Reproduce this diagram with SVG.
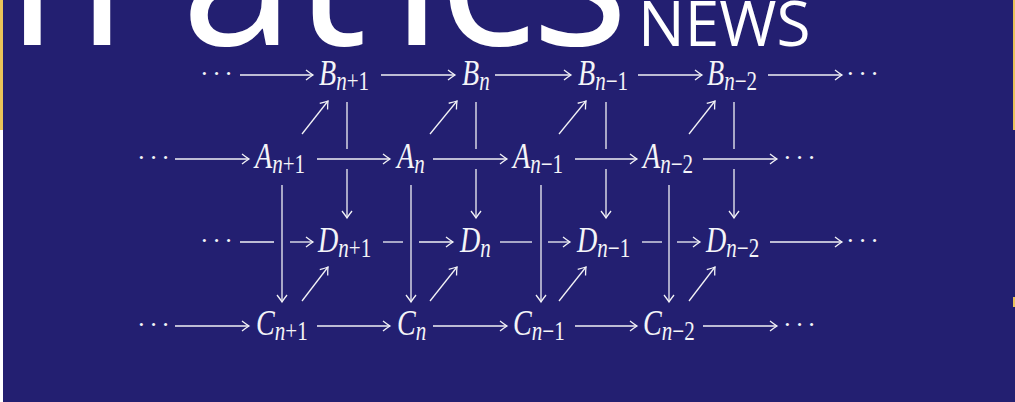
<svg xmlns="http://www.w3.org/2000/svg" width="1015" height="402" viewBox="0 0 1015 402">
<style>
.ln{stroke:#f2f2f6;stroke-width:1.3;fill:none}
.ar{stroke:#f2f2f6;stroke-width:1.3;fill:none;marker-end:url(#ah)}
.m{font-family:"Liberation Serif",serif;font-style:italic;font-size:36px;fill:#f4f4f8}
.s{font-size:27px}
.r{font-style:normal}
.dots{font-family:"Liberation Serif",serif;font-size:26px;letter-spacing:3.5px;fill:#f4f4f8}
.title{font-family:"Open Sans",sans-serif;fill:#ffffff}
</style>
<defs>
<marker id="ah" markerUnits="userSpaceOnUse" orient="auto" markerWidth="14" markerHeight="14" viewBox="-9 -7 11 14" refX="0" refY="0">
<path d="M-7,-5 Q-2.5,-1.5 0,0 Q-2.5,1.5 -7,5" fill="none" stroke="#f2f2f6" stroke-width="1.3"/>
</marker>
</defs>
<rect x="0" y="0" width="1015" height="402" fill="#231f71"/>
<rect x="0" y="0" width="3" height="130" fill="#e9c35a"/>
<rect x="0" y="130" width="3" height="272" fill="#ffffff"/>
<rect x="1013" y="0" width="2" height="130" fill="#e9c35a"/>
<rect x="1013" y="297" width="2" height="10" fill="#e9c35a"/>
<g id="title">
<text class="title" x="-63 181 294 391 438 531" y="45" font-size="205" font-weight="400">matics</text>
<text class="title" x="638" y="46" font-size="62">NEWS</text>
</g>
<g id="connectors">
<line class="ar" x1="240" y1="75" x2="313" y2="75"/>
<line class="ar" x1="381" y1="75" x2="455" y2="75"/>
<line class="ar" x1="495" y1="75" x2="571" y2="75"/>
<line class="ar" x1="638" y1="75" x2="702" y2="75"/>
<line class="ar" x1="768" y1="75" x2="842" y2="75"/>
<line class="ar" x1="175" y1="159" x2="249" y2="159"/>
<line class="ar" x1="317" y1="159" x2="390" y2="159"/>
<line class="ar" x1="433" y1="159" x2="507" y2="159"/>
<line class="ar" x1="575" y1="159" x2="637" y2="159"/>
<line class="ar" x1="703" y1="159" x2="777" y2="159"/>
<line class="ln" x1="240" y1="242" x2="274" y2="242"/>
<line class="ar" x1="290" y1="242" x2="313" y2="242"/>
<line class="ln" x1="383" y1="242" x2="403" y2="242"/>
<line class="ar" x1="419" y1="242" x2="453" y2="242"/>
<line class="ln" x1="500" y1="242" x2="532" y2="242"/>
<line class="ar" x1="548" y1="242" x2="570" y2="242"/>
<line class="ln" x1="642" y1="242" x2="662" y2="242"/>
<line class="ar" x1="677" y1="242" x2="700" y2="242"/>
<line class="ar" x1="770" y1="242" x2="842" y2="242"/>
<line class="ar" x1="175" y1="326" x2="249" y2="326"/>
<line class="ar" x1="317" y1="326" x2="390" y2="326"/>
<line class="ar" x1="433" y1="326" x2="507" y2="326"/>
<line class="ar" x1="575" y1="326" x2="637" y2="326"/>
<line class="ar" x1="703" y1="326" x2="777" y2="326"/>
<line class="ln" x1="347" y1="102" x2="347" y2="149"/>
<line class="ar" x1="347" y1="169" x2="347" y2="218"/>
<line class="ln" x1="476" y1="102" x2="476" y2="149"/>
<line class="ar" x1="476" y1="169" x2="476" y2="218"/>
<line class="ln" x1="606" y1="102" x2="606" y2="149"/>
<line class="ar" x1="606" y1="169" x2="606" y2="218"/>
<line class="ln" x1="734" y1="102" x2="734" y2="149"/>
<line class="ar" x1="734" y1="169" x2="734" y2="218"/>
<line class="ar" x1="282" y1="185" x2="282" y2="302"/>
<line class="ar" x1="411" y1="185" x2="411" y2="302"/>
<line class="ar" x1="541" y1="185" x2="541" y2="302"/>
<line class="ar" x1="669" y1="185" x2="669" y2="302"/>
<line class="ar" x1="302" y1="134" x2="328" y2="101"/>
<line class="ar" x1="430" y1="134" x2="457" y2="101"/>
<line class="ar" x1="559" y1="134" x2="586" y2="101"/>
<line class="ar" x1="689" y1="134" x2="715" y2="101"/>
<line class="ar" x1="302" y1="301" x2="328" y2="267"/>
<line class="ar" x1="430" y1="301" x2="457" y2="267"/>
<line class="ar" x1="559" y1="301" x2="586" y2="267"/>
<line class="ar" x1="689" y1="301" x2="715" y2="267"/>
</g>
<g id="dots">
<text class="dots" x="200" y="82">···</text>
<text class="dots" x="846" y="82">···</text>
<text class="dots" x="137" y="166">···</text>
<text class="dots" x="783" y="166">···</text>
<text class="dots" x="200" y="249">···</text>
<text class="dots" x="846" y="249">···</text>
<text class="dots" x="137" y="333">···</text>
<text class="dots" x="783" y="333">···</text>
</g>
<g id="B1"><text class="m" transform="translate(319,85) scale(0.78,1)">B<tspan class="s" dy="5">n</tspan><tspan class="s r">+1</tspan></text></g>
<g id="B2"><text class="m" transform="translate(462,85) scale(0.78,1)">B<tspan class="s" dy="5">n</tspan></text></g>
<g id="B3"><text class="m" transform="translate(578,85) scale(0.78,1)">B<tspan class="s" dy="5">n</tspan><tspan class="s r">−1</tspan></text></g>
<g id="B4"><text class="m" transform="translate(707,85) scale(0.78,1)">B<tspan class="s" dy="5">n</tspan><tspan class="s r">−2</tspan></text></g>
<g id="A1"><text class="m" transform="translate(255,168) scale(0.78,1)">A<tspan class="s" dy="5">n</tspan><tspan class="s r">+1</tspan></text></g>
<g id="A2"><text class="m" transform="translate(397,168) scale(0.78,1)">A<tspan class="s" dy="5">n</tspan></text></g>
<g id="A3"><text class="m" transform="translate(513,168) scale(0.78,1)">A<tspan class="s" dy="5">n</tspan><tspan class="s r">−1</tspan></text></g>
<g id="A4"><text class="m" transform="translate(643,168) scale(0.78,1)">A<tspan class="s" dy="5">n</tspan><tspan class="s r">−2</tspan></text></g>
<g id="D1"><text class="m" transform="translate(318,252) scale(0.78,1)">D<tspan class="s" dy="5">n</tspan><tspan class="s r">+1</tspan></text></g>
<g id="D2"><text class="m" transform="translate(460,252) scale(0.78,1)">D<tspan class="s" dy="5">n</tspan></text></g>
<g id="D3"><text class="m" transform="translate(577,252) scale(0.78,1)">D<tspan class="s" dy="5">n</tspan><tspan class="s r">−1</tspan></text></g>
<g id="D4"><text class="m" transform="translate(706,252) scale(0.78,1)">D<tspan class="s" dy="5">n</tspan><tspan class="s r">−2</tspan></text></g>
<g id="C1"><text class="m" transform="translate(256,335) scale(0.78,1)">C<tspan class="s" dy="5">n</tspan><tspan class="s r">+1</tspan></text></g>
<g id="C2"><text class="m" transform="translate(397,335) scale(0.78,1)">C<tspan class="s" dy="5">n</tspan></text></g>
<g id="C3"><text class="m" transform="translate(513,335) scale(0.78,1)">C<tspan class="s" dy="5">n</tspan><tspan class="s r">−1</tspan></text></g>
<g id="C4"><text class="m" transform="translate(643,335) scale(0.78,1)">C<tspan class="s" dy="5">n</tspan><tspan class="s r">−2</tspan></text></g>
</svg>
